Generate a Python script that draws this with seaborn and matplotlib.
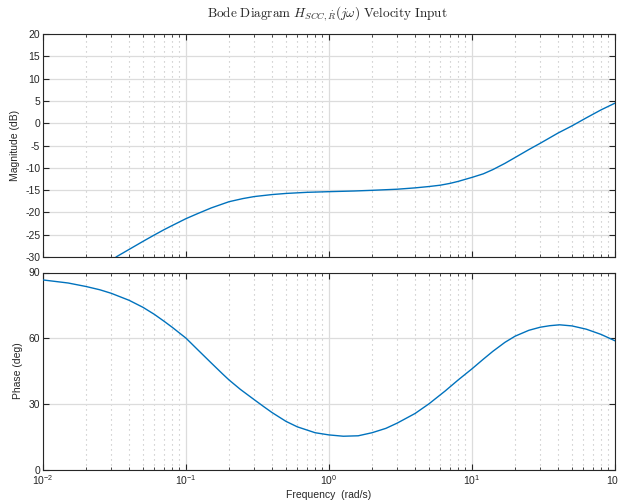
import numpy as np
import pandas as pd
import matplotlib
matplotlib.use("Agg")
import matplotlib.pyplot as plt
import seaborn as sns
from matplotlib.ticker import LogLocator, NullFormatter, FixedLocator

# Data
mag_freq = [0.0324, 0.04, 0.05, 0.059, 0.07, 0.08, 0.1, 0.12, 0.15, 0.2, 0.25, 0.3, 0.4, 0.5,
            0.7, 1.0, 1.5, 2.0, 3.0, 4.0, 5.0, 6.0, 7.0, 8.0, 10.0, 12.0, 14.0, 17.0, 20.0,
            25.0, 30.0, 40.0, 50.0, 63.0, 80.0, 100.0]
mag_db = [-30.0, -28.3, -26.5, -25.2, -23.9, -22.95, -21.4, -20.3, -19.0, -17.6, -16.9, -16.45,
          -16.0, -15.75, -15.5, -15.35, -15.2, -15.05, -14.8, -14.5, -14.2, -13.9, -13.5, -13.05,
          -12.15, -11.35, -10.4, -9.0, -7.7, -5.9, -4.5, -2.2, -0.6, 1.2, 3.0, 4.5]

ph_freq = [0.01, 0.015, 0.02, 0.025, 0.03, 0.04, 0.05, 0.06, 0.07, 0.08, 0.1, 0.12, 0.15, 0.18,
           0.2, 0.24, 0.3, 0.35, 0.4, 0.5, 0.6, 0.8, 1.0, 1.26, 1.6, 2.0, 2.5, 3.0, 4.0, 5.0,
           6.5, 8.0, 10.0, 12.0, 14.0, 17.0, 20.0, 25.0, 30.0, 35.0, 41.0, 50.0, 63.0, 80.0, 100.0]
ph_deg = [86.6, 85.2, 83.6, 82.1, 80.5, 77.3, 74.1, 70.9, 67.8, 65.0, 60.0, 54.9, 48.7, 43.7,
          40.9, 36.6, 31.9, 28.7, 26.0, 22.0, 19.5, 16.8, 15.8, 15.2, 15.4, 16.8, 18.8, 21.2,
          25.6, 30.0, 35.9, 40.9, 46.0, 50.4, 54.0, 58.1, 60.9, 63.6, 65.0, 65.7, 66.1, 65.6,
          64.1, 61.7, 58.8]

xtick_vals = [1e-2, 1e-1, 1e0, 1e1, 1e2]
xtick_labels = [r"$10^{-2}$", r"$10^{-1}$", r"$10^{0}$", r"$10^{1}$", r"$10^{2}$"]
mag_ticks = [-30, -25, -20, -15, -10, -5, 0, 5, 10, 15, 20]
ph_ticks = [0, 30, 60, 90]

sns.set_theme(style="white")
plt.rcParams['font.family'] = ['Liberation Sans', 'DejaVu Sans']
plt.rcParams['mathtext.fontset'] = 'custom'
plt.rcParams['mathtext.rm'] = 'Liberation Sans'
plt.rcParams['mathtext.it'] = 'Liberation Sans:italic'

line_color = "#0072BD"

fig = plt.figure(figsize=(6.18, 5.04), dpi=100)
ax1 = fig.add_axes([43/618, 1-257/504, 572/618, (257-34)/504])
ax2 = fig.add_axes([43/618, 1-469.5/504, 572/618, (469.5-272.5)/504])

dm = pd.DataFrame({"f": mag_freq, "v": mag_db})
dp = pd.DataFrame({"f": ph_freq, "v": ph_deg})
sns.lineplot(data=dm, x="f", y="v", ax=ax1, color=line_color, linewidth=1.0, zorder=5,
             solid_joinstyle="round")
sns.lineplot(data=dp, x="f", y="v", ax=ax2, color=line_color, linewidth=1.0, zorder=5,
             solid_joinstyle="round")

for ax, yt, ylim in [(ax1, mag_ticks, (-30, 20)), (ax2, ph_ticks, (0, 90))]:
    ax.set_xscale("log")
    ax.set_xlim(1e-2, 1e2)
    ax.set_ylim(*ylim)
    ax.xaxis.set_major_locator(FixedLocator(xtick_vals))
    ax.xaxis.set_minor_locator(LogLocator(base=10, subs=np.arange(2, 10), numticks=20))
    ax.xaxis.set_minor_formatter(NullFormatter())
    ax.set_yticks(yt)
    ax.set_yticklabels([str(v) for v in yt])
    ax.grid(True, which="major", axis="both", color="#dcdcdc", linewidth=0.9, linestyle="-", zorder=0)
    ax.grid(True, which="minor", axis="x", color="#bdbdbd", linewidth=0.8, linestyle=(0, (1, 3.5)), zorder=0)
    ax.tick_params(which="major", direction="in", length=4, width=0.8, top=True, right=True,
                   bottom=True, left=True, labelsize=7.5, colors="#262626", pad=2)
    ax.tick_params(which="minor", direction="in", length=2.5, width=0.6, top=True, bottom=True)
    for s in ax.spines.values():
        s.set_color("#262626")
        s.set_linewidth(0.8)
        s.set_visible(True)
    ax.set_axisbelow(True)

ax1.set_xticklabels([])
ax1.set_xlabel("")
ax2.set_xticklabels(xtick_labels)
ax2.tick_params(axis="x", which="major", pad=3)
ax1.set_ylabel("Magnitude (dB)", fontsize=7.5, labelpad=4)
ax2.set_ylabel("Phase (deg)", fontsize=7.5, labelpad=4)
ax2.set_xlabel("Frequency  (rad/s)", fontsize=7.5, labelpad=2)

fig.text(327/618, 1-14/504,
         r"$\mathrm{Bode\ Diagram}\ H_{SCC,\dot{R}}(j\omega)\ \mathrm{Velocity\ Input}$",
         ha="center", va="center", fontsize=9.5, math_fontfamily="cm")

fig.savefig("out.png", dpi=100)
